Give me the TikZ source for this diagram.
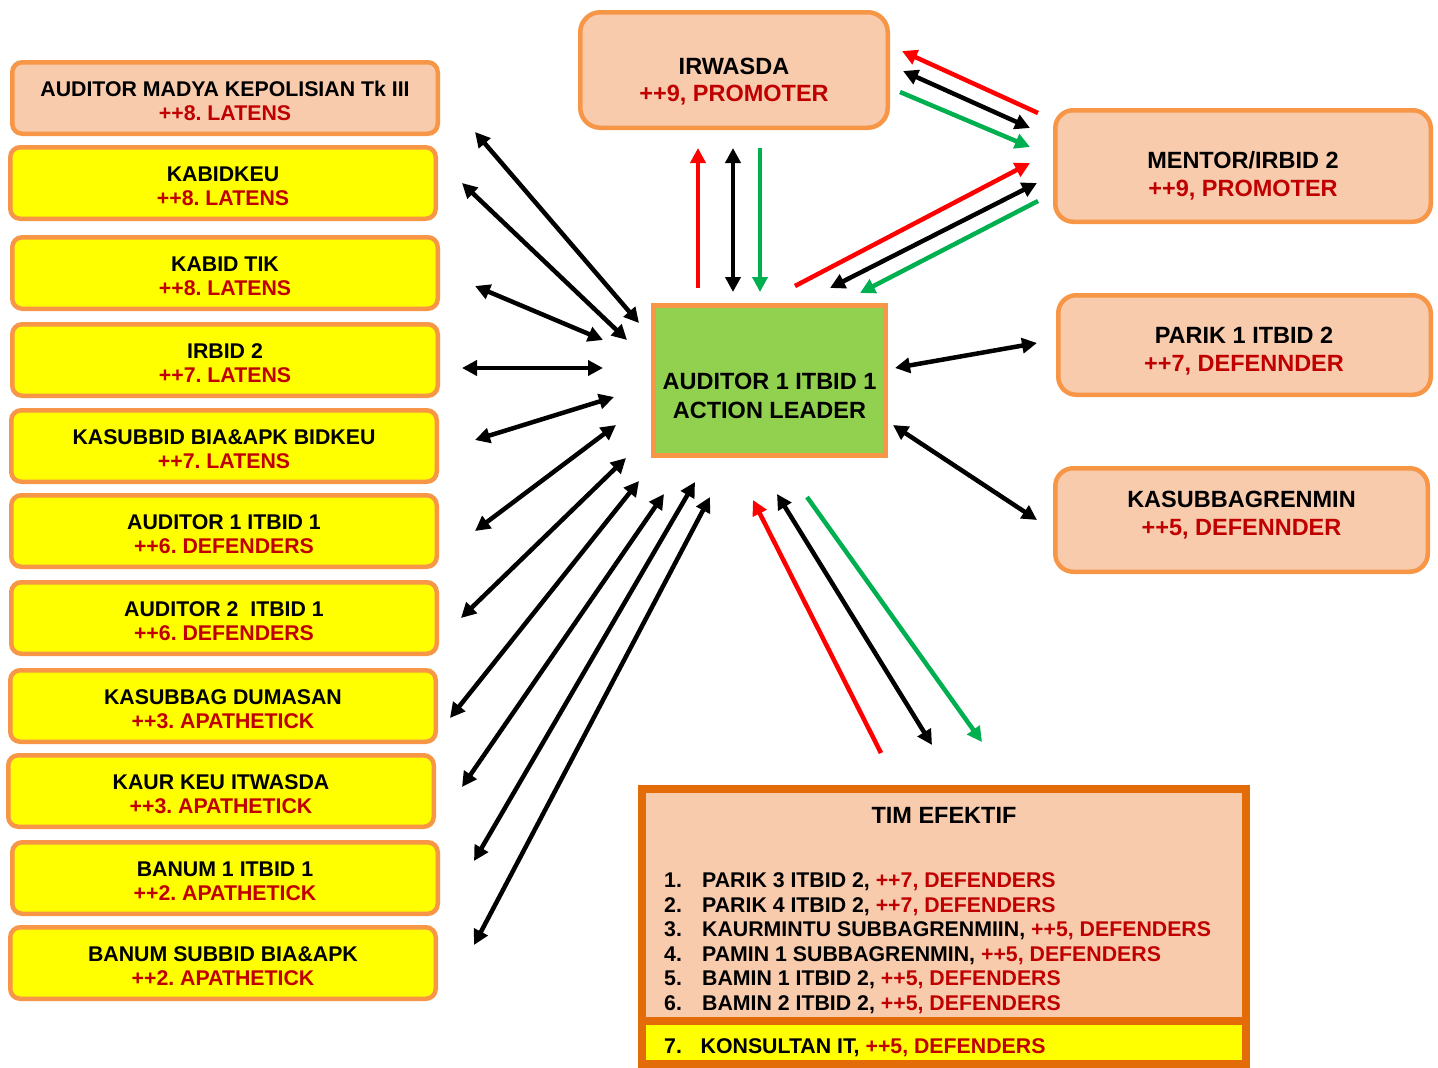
\documentclass[tikz,border=0pt]{standalone}
\usepackage{fontspec}
\setmainfont{Liberation Sans}
\usetikzlibrary{arrows.meta}
\frenchspacing
\definecolor{peach}{HTML}{F8CBAD}
\definecolor{orng}{HTML}{F79646}
\definecolor{dorng}{HTML}{E36C09}
\definecolor{lgreen}{HTML}{92D050}
\definecolor{dred}{HTML}{C00000}
\definecolor{agreen}{HTML}{00B050}
\definecolor{ared}{HTML}{FF0000}
\definecolor{yel}{HTML}{FFFF00}
\tikzset{
  bigT/.tip={Triangle[length=15pt,width=15pt]},
  dblk/.style={draw=black,fill=black,line width=4.5pt,bigT-bigT},
  redar/.style={ared,line width=4.5pt,-bigT},
  grnar/.style={agreen,line width=4.5pt,-bigT},
  lbox/.style={rectangle,rounded corners=10pt,draw=orng,line width=4.5pt,
    minimum width=425.5pt,minimum height=71.5pt,inner sep=0pt},
  rbox/.style={rectangle,rounded corners=18pt,draw=orng,line width=4.5pt,fill=peach,inner sep=0pt},
  tl/.style={font=\fontsize{21.3}{24}\selectfont\bfseries,anchor=base,inner sep=0pt},
  tb/.style={font=\fontsize{23.5}{28}\selectfont\bfseries,anchor=base,inner sep=0pt},
  tw/.style={font=\fontsize{21.3}{24}\selectfont\bfseries,anchor=base west,inner sep=0pt},
}
\begin{document}
\begin{tikzpicture}[x=1pt,y=-1pt]
\useasboundingbox (0,0) rectangle (1438,1068);
\fill[white] (0,0) rectangle (1438,1068);

% left boxes
\foreach \n/\cx/\cy/\fc/\ta/\tb in {
  1/225/98/peach/{AUDITOR MADYA KEPOLISIAN Tk III}/{++8. LATENS},
  2/223/183/yel/{KABIDKEU}/{++8. LATENS},
  3/225/273/yel/{KABID TIK}/{++8. LATENS},
  4/225/360/yel/{IRBID 2}/{++7. LATENS},
  5/224/446/yel/{KASUBBID BIA\&APK BIDKEU}/{++7. LATENS},
  6/224/531/yel/{AUDITOR 1 ITBID 1}/{++6. DEFENDERS},
  7/224/618/yel/{AUDITOR 2~ ITBID 1}/{++6. DEFENDERS},
  8/223/706/yel/{KASUBBAG DUMASAN}/{++3. APATHETICK},
  9/221/791/yel/{KAUR KEU ITWASDA}/{++3. APATHETICK},
  10/225/878/yel/{BANUM 1 ITBID 1}/{++2. APATHETICK},
  11/223/963/yel/{BANUM SUBBID BIA\&APK}/{++2. APATHETICK}}
{
  \node[lbox,fill=\fc] (L\n) at (\cx,\cy) {};
  \node[tl] (L\n a) at (\cx,\cy-1.5) {\ta};
  \node[tl,text=dred] (L\n b) at (\cx,\cy+22.5) {\tb};
}

% top box
\node[rbox,rounded corners=20pt,minimum width=307.5pt,minimum height=115.5pt] (irw) at (734,70) {};
\node[tb] (irwa) at (734,74.4) {IRWASDA};
\node[tb,text=dred] (irwb) at (734,101.4) {++9, PROMOTER};

% right boxes
\node[rbox,minimum width=375.5pt,minimum height=111.5pt] (men) at (1243,166) {};
\node[tb] (mena) at (1243,168.4) {MENTOR/IRBID 2};
\node[tb,text=dred] (menb) at (1243,196.4) {++9, PROMOTER};

\node[rbox,minimum width=372.5pt,minimum height=99.5pt] (par) at (1244.5,345) {};
\node[tb] (para) at (1244,343.4) {PARIK 1 ITBID 2};
\node[tb,text=dred] (parb) at (1244,371.4) {++7, DEFENNDER};

\node[rbox,minimum width=372.5pt,minimum height=103.5pt] (kas) at (1241.5,520) {};
\node[tb] (kasa) at (1241.5,507.4) {KASUBBAGRENMIN};
\node[tb,text=dred] (kasb) at (1241.5,535.4) {++5, DEFENNDER};

% center box
\node[rectangle,draw=orng,fill=lgreen,line width=5pt,minimum width=232pt,minimum height=150pt,inner sep=0pt] (ctr) at (769.5,380.5) {};
\node[tb] (ctra) at (769.5,389.4) {AUDITOR 1 ITBID 1};
\node[tb] (ctrb) at (769.5,418.4) {ACTION LEADER};

% TIM EFEKTIF
\fill[peach] (642,789) rectangle (1246,1064);
\fill[yel] (642,1021) rectangle (1246,1064);
\node[rectangle,draw=dorng,line width=8pt,minimum width=604pt,minimum height=275pt,inner sep=0pt] (tim) at (944,926.5) {};
\draw[dorng,line width=8pt] (tim.west |- 0,1021) -- (tim.east |- 0,1021);
\node[tb] (timt) at (944,823.4) {TIM EFEKTIF};
\foreach \k/\yy/\xx/\tx in {
  1/887.5/702/{PARIK 3 ITBID 2, \textcolor{dred}{++7, DEFENDERS}},
  2/912.5/702/{PARIK 4 ITBID 2, \textcolor{dred}{++7, DEFENDERS}},
  3/936.7/702/{KAURMINTU SUBBAGRENMIIN, \textcolor{dred}{++5, DEFENDERS}},
  4/961.5/702/{PAMIN 1 SUBBAGRENMIN, \textcolor{dred}{++5, DEFENDERS}},
  5/985.8/702/{BAMIN 1 ITBID 2, \textcolor{dred}{++5, DEFENDERS}},
  6/1010.5/702/{BAMIN 2 ITBID 2, \textcolor{dred}{++5, DEFENDERS}},
  7/1053.3/700.5/{KONSULTAN IT, \textcolor{dred}{++5, DEFENDERS}}}
{
  \node[tw] (n\k) at (664,\yy) {\k.};
  \node[tw] (i\k) at (\xx,\yy) {\tx};
}

% connectors
\foreach \n/\st/\xa/\ya/\xb/\yb in {
  a1/dblk/475/132/639/323,
  a2/dblk/462/183/627/340,
  a3/dblk/475/286/603/340,
  a4/dblk/462/368/603/368,
  a5/dblk/475/440/614/397,
  a6/dblk/475/531/616/425,
  a7/dblk/461/618/626/458,
  a8/dblk/450/718/639/481,
  a9/dblk/462/787/664/494,
  a10/dblk/474/861/695/482,
  a11/dblk/474/945/710/497,
  vR/redar/698/288/698/148,
  vK/dblk/733/148/733/292,
  vG/grnar/760/148/760/292,
  imR/redar/1038/113/902/51,
  imK/dblk/903/71/1030/128,
  imG/grnar/900/92/1030/147,
  cmR/redar/795/286/1030/163,
  cmK/dblk/830/288/1037/183,
  cmG/grnar/1038/201/860/293,
  rP/dblk/895/368/1037/343,
  rK/dblk/893/425/1037/520,
  bR/redar/881/753/753/500,
  bK/dblk/777/494/932/745,
  bG/grnar/807/497/982/742}
{
  \coordinate (\n s) at (\xa,\ya);
  \coordinate (\n e) at (\xb,\yb);
  \draw[\st] (\n s) -- (\n e);
}
\end{tikzpicture}
\end{document}
